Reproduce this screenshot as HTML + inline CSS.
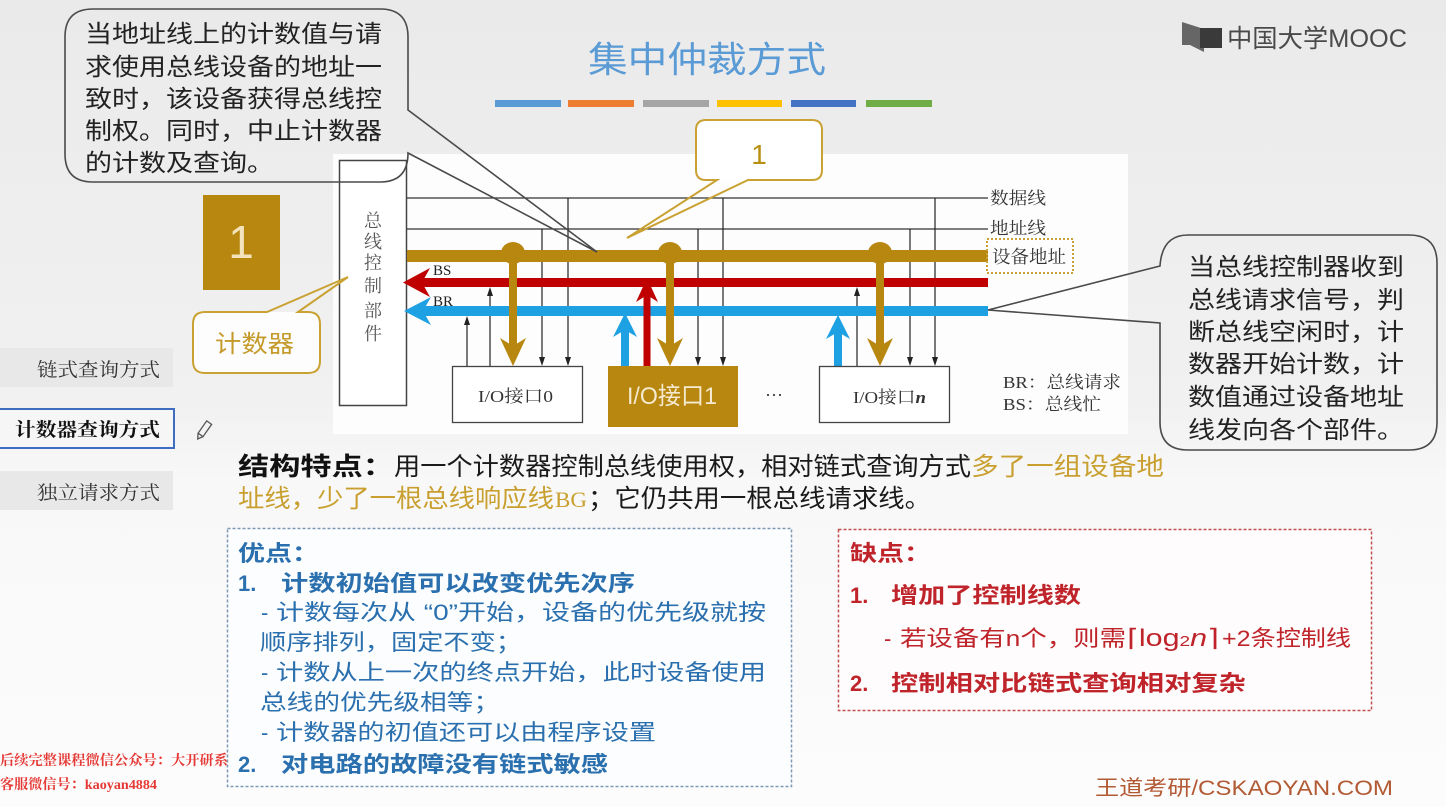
<!DOCTYPE html>
<html><head><meta charset="utf-8"><style>
html,body{margin:0;padding:0;width:1446px;height:807px;overflow:hidden;background:#f3f3f3}
svg{display:block}
.s{font-family:"Liberation Sans","Noto Sans CJK SC",sans-serif}
.r{font-family:"Liberation Serif","Noto Serif CJK SC",serif}
</style></head><body>
<svg width="1446" height="807" viewBox="0 0 1446 807" xmlns="http://www.w3.org/2000/svg">
<defs>
<linearGradient id="bg" x1="0" y1="0" x2="0" y2="1">
<stop offset="0" stop-color="#eaeaea"/>
<stop offset="0.5" stop-color="#f1f1f1"/>
<stop offset="0.6" stop-color="#f8f8f8"/>
<stop offset="1" stop-color="#fcfcfc"/>
</linearGradient>
</defs>
<rect width="1446" height="807" fill="url(#bg)"/>

<!-- diagram panel -->
<rect x="333" y="154" width="795" height="280" fill="#fdfdfd"/>

<!-- title -->
<text class="s" x="588" y="72" font-size="36" fill="#5b9bd5" textLength="238" lengthAdjust="spacingAndGlyphs">集中仲裁方式</text>
<rect x="495" y="100" width="66" height="7" fill="#5b9bd5"/>
<rect x="568" y="100" width="66" height="7" fill="#ed7d31"/>
<rect x="643" y="100" width="66" height="7" fill="#a5a5a5"/>
<rect x="717" y="100" width="65" height="7" fill="#ffc000"/>
<rect x="791" y="100" width="65" height="7" fill="#4472c4"/>
<rect x="866" y="100" width="66" height="7" fill="#70ad47"/>

<!-- MOOC logo -->
<polygon points="1182,22 1204,29 1204,52 1190,45 1182,45" fill="#666"/>
<rect x="1200" y="28" width="22" height="20" fill="#3a3a3a"/>
<text class="s" x="1227" y="47" font-size="25" fill="#4a4a4a" textLength="180" lengthAdjust="spacingAndGlyphs">中国大学MOOC</text>

<!-- bus control box -->
<rect x="339.5" y="160.5" width="67" height="245" fill="#fff" stroke="#444" stroke-width="1.5"/>
<g class="r" font-size="18" fill="#555" text-anchor="middle">
<text x="373" y="227">总</text>
<text x="373" y="248">线</text>
<text x="373" y="269">控</text>
<text x="373" y="292">制</text>
<text x="373" y="317">部</text>
<text x="373" y="340">件</text>
</g>

<!-- data / address lines -->
<line x1="407" y1="198" x2="988" y2="198" stroke="#333" stroke-width="1.3"/>
<line x1="407" y1="229" x2="988" y2="229" stroke="#333" stroke-width="1.3"/>

<!-- thin verticals -->
<g stroke="#222" stroke-width="1.2">
<line x1="467" y1="366" x2="467" y2="320"/>
<line x1="490" y1="366" x2="490" y2="291"/>
<line x1="857" y1="366" x2="857" y2="291"/>
<line x1="542" y1="229" x2="542" y2="360"/>
<line x1="698" y1="229" x2="698" y2="360"/>
<line x1="910" y1="229" x2="910" y2="360"/>
<line x1="568" y1="198" x2="568" y2="360"/>
<line x1="723" y1="198" x2="723" y2="360"/>
<line x1="935" y1="198" x2="935" y2="360"/>
</g>
<g fill="#222">
<polygon points="464,325 470,325 467,316"/>
<polygon points="487,296 493,296 490,287"/>
<polygon points="854,296 860,296 857,287"/>
<polygon points="539,357 545,357 542,366"/>
<polygon points="695,357 701,357 698,366"/>
<polygon points="907,357 913,357 910,366"/>
<polygon points="565,357 571,357 568,366"/>
<polygon points="720,357 726,357 723,366"/>
<polygon points="932,357 938,357 935,366"/>
</g>

<!-- gold bus -->
<rect x="407" y="250" width="581" height="12" fill="#b8870f"/>
<!-- red BS -->
<rect x="422" y="278" width="566" height="9" fill="#c00000"/>
<polygon points="403,282.5 430,268 422,282.5 430,297" fill="#c00000"/>
<!-- blue BR -->
<rect x="422" y="306" width="566" height="10" fill="#1ea1e3"/>
<polygon points="404,311 431,297 423,311 431,325" fill="#1ea1e3"/>

<text class="r" x="433" y="275" font-size="15" fill="#222">BS</text>
<text class="r" x="433" y="306" font-size="15" fill="#222">BR</text>

<!-- blue up arrows -->
<g fill="#1ea1e3">
<rect x="621" y="328" width="8" height="38"/>
<polygon points="625,313 637,337 625,330 613,337"/>
<rect x="834" y="330" width="8" height="36"/>
<polygon points="838,315 850,339 838,332 826,339"/>
</g>
<!-- red up arrow -->
<rect x="643.5" y="294" width="7" height="72" fill="#c00000"/>
<polygon points="647,278 658,302 647,295 636,302" fill="#c00000"/>

<!-- gold circles and down arrows -->
<g fill="#b8870f">
<ellipse cx="513" cy="253" rx="12" ry="11"/>
<ellipse cx="670" cy="253" rx="12" ry="11"/>
<ellipse cx="880" cy="253" rx="12" ry="11"/>
<rect x="509" y="255" width="8" height="92"/>
<polygon points="500,338 513,346 526,338 513,366"/>
<rect x="666" y="255" width="8" height="92"/>
<polygon points="657,338 670,346 683,338 670,366"/>
<rect x="876" y="255" width="8" height="92"/>
<polygon points="867,338 880,346 893,338 880,366"/>
</g>

<!-- I/O boxes -->
<rect x="452.5" y="366.5" width="130" height="56" fill="#fff" stroke="#444" stroke-width="1.3"/>
<text class="r" x="478" y="402" font-size="17" fill="#333" textLength="75" lengthAdjust="spacingAndGlyphs">I/O接口0</text>
<rect x="608" y="366" width="130" height="61" fill="#b8870f"/>
<text class="s" x="627" y="404" font-size="24" fill="#f5ead0" textLength="90" lengthAdjust="spacingAndGlyphs">I/O接口1</text>
<text class="r" x="765" y="401" font-size="18" fill="#333">···</text>
<rect x="819.5" y="366.5" width="130" height="56" fill="#fff" stroke="#444" stroke-width="1.3"/>
<text class="r" x="853" y="403" font-size="17" fill="#333" textLength="73" lengthAdjust="spacingAndGlyphs">I/O接口<tspan font-style="italic" font-weight="bold">n</tspan></text>

<!-- right labels -->
<text class="r" x="990" y="204" font-size="17" fill="#333" textLength="56" lengthAdjust="spacingAndGlyphs">数据线</text>
<text class="r" x="990" y="234" font-size="17" fill="#333" textLength="56" lengthAdjust="spacingAndGlyphs">地址线</text>
<rect x="987" y="239" width="86" height="34" fill="none" stroke="#c9a233" stroke-width="2" stroke-dasharray="2 2"/>
<text class="r" x="992" y="263" font-size="18" fill="#333" textLength="74" lengthAdjust="spacingAndGlyphs">设备地址</text>
<text class="r" x="1003" y="388" font-size="17" fill="#333" textLength="118" lengthAdjust="spacingAndGlyphs">BR：总线请求</text>
<text class="r" x="1003" y="410" font-size="17" fill="#333" textLength="98" lengthAdjust="spacingAndGlyphs">BS：总线忙</text>

<!-- top-left callout -->
<path d="M 93,9 H 380 Q 408,9 408,37 V 110 L 597,252 L 408,153 Q 408,182 380,182 H 93 Q 65,182 65,154 V 37 Q 65,9 93,9 Z" fill="none" stroke="#4a4a4a" stroke-width="1.6"/>
<g class="s" font-size="24" fill="#222">
<text x="85" y="42" textLength="297" lengthAdjust="spacingAndGlyphs">当地址线上的计数值与请</text>
<text x="85" y="75" textLength="297" lengthAdjust="spacingAndGlyphs">求使用总线设备的地址一</text>
<text x="85" y="107" textLength="297" lengthAdjust="spacingAndGlyphs">致时，该设备获得总线控</text>
<text x="85" y="139" textLength="297" lengthAdjust="spacingAndGlyphs">制权。同时，中止计数器</text>
<text x="85" y="171" textLength="189" lengthAdjust="spacingAndGlyphs">的计数及查询。</text>
</g>

<!-- right callout -->
<path d="M 1188,235 H 1409 Q 1437,235 1437,263 V 422 Q 1437,450 1409,450 H 1188 Q 1160,450 1160,422 V 323 L 988,310 L 1160,266 Q 1162,235 1188,235 Z" fill="none" stroke="#4a4a4a" stroke-width="1.6"/>
<g class="s" font-size="24" fill="#222">
<text x="1188" y="275" textLength="216" lengthAdjust="spacingAndGlyphs">当总线控制器收到</text>
<text x="1188" y="308" textLength="216" lengthAdjust="spacingAndGlyphs">总线请求信号，判</text>
<text x="1188" y="340" textLength="216" lengthAdjust="spacingAndGlyphs">断总线空闲时，计</text>
<text x="1188" y="372" textLength="216" lengthAdjust="spacingAndGlyphs">数器开始计数，计</text>
<text x="1188" y="405" textLength="216" lengthAdjust="spacingAndGlyphs">数值通过设备地址</text>
<text x="1188" y="438" textLength="216" lengthAdjust="spacingAndGlyphs">线发向各个部件。</text>
</g>

<!-- gold callout "1" -->
<rect x="696" y="120" width="126" height="60" rx="10" fill="#fff"/>
<path d="M 706,120 H 812 Q 822,120 822,130 V 170 Q 822,180 812,180 H 748 L 627,238 L 717,180 H 706 Q 696,180 696,170 V 130 Q 696,120 706,120 Z" fill="none" stroke="#c9a233" stroke-width="2"/>
<text class="s" x="759" y="164" font-size="28" fill="#b8900f" text-anchor="middle">1</text>

<!-- gold square 1 -->
<rect x="203" y="195" width="77" height="95" fill="#b8870f"/>
<text class="s" x="241" y="258" font-size="46" fill="#f3e4bd" text-anchor="middle">1</text>

<!-- 计数器 callout -->
<rect x="193" y="312" width="127" height="61" rx="12" fill="#fdfdfd"/>
<path d="M 205,312 H 267 L 348,277 L 298,312 H 308 Q 320,312 320,324 V 361 Q 320,373 308,373 H 205 Q 193,373 193,361 V 324 Q 193,312 205,312 Z" fill="none" stroke="#c9a233" stroke-width="2"/>
<text class="s" x="215" y="352" font-size="24" fill="#c49a2a" textLength="79" lengthAdjust="spacingAndGlyphs">计数器</text>

<!-- sidebar -->
<rect x="0" y="348" width="173" height="39" fill="#e8e8e8"/>
<text class="r" x="37" y="376" font-size="19" fill="#333" textLength="123" lengthAdjust="spacingAndGlyphs">链式查询方式</text>
<rect x="-2" y="409" width="176" height="39" fill="#f6f6f6" stroke="#3d6cc0" stroke-width="2"/>
<text class="r" x="15" y="436" font-size="19" font-weight="bold" fill="#111" textLength="145" lengthAdjust="spacingAndGlyphs">计数器查询方式</text>
<rect x="0" y="471" width="173" height="39" fill="#e8e8e8"/>
<text class="r" x="37" y="499" font-size="19" fill="#333" textLength="123" lengthAdjust="spacingAndGlyphs">独立请求方式</text>
<g transform="translate(204,430) rotate(-55)">
<rect x="-6" y="-3" width="15" height="6" fill="none" stroke="#555" stroke-width="1.3"/>
<path d="M -6,-3 L -11,0 L -6,3" fill="none" stroke="#555" stroke-width="1.3"/>
</g>

<!-- structure text -->
<g class="s" font-size="25">
<text x="238" y="475" font-weight="bold" fill="#111" textLength="156" lengthAdjust="spacingAndGlyphs">结构特点：</text>
<text x="394" y="475" fill="#1a1a1a" textLength="577" lengthAdjust="spacingAndGlyphs">用一个计数器控制总线使用权，相对链式查询方式</text>
<text x="971" y="475" fill="#c9a030" textLength="193" lengthAdjust="spacingAndGlyphs">多了一组设备地</text>
<text x="238" y="507" fill="#c9a030" textLength="316" lengthAdjust="spacingAndGlyphs">址线，少了一根总线响应线</text>
<text class="r" x="555" y="507" fill="#c9a030" font-size="22" textLength="32" lengthAdjust="spacingAndGlyphs">BG</text>
<text x="588" y="507" fill="#1a1a1a" textLength="343" lengthAdjust="spacingAndGlyphs">；它仍共用一根总线请求线。</text>
</g>

<!-- advantages box -->
<rect x="227.5" y="528.5" width="564" height="258" fill="#fcfdfe" stroke="#7d98b3" stroke-width="1.5" stroke-dasharray="3 2"/>
<g class="s" font-size="22" fill="#2a6fae">
<text x="238" y="561" font-weight="bold" textLength="81" lengthAdjust="spacingAndGlyphs">优点：</text>
<text x="238" y="591" font-weight="bold">1.</text>
<text x="281" y="591" font-weight="bold" textLength="354" lengthAdjust="spacingAndGlyphs">计数初始值可以改变优先次序</text>
<text x="261" y="620">-</text>
<text x="276" y="620" textLength="490" lengthAdjust="spacingAndGlyphs">计数每次从 “0”开始，设备的优先级就按</text>
<text x="260" y="650" textLength="262" lengthAdjust="spacingAndGlyphs">顺序排列，固定不变；</text>
<text x="261" y="680">-</text>
<text x="276" y="680" textLength="490" lengthAdjust="spacingAndGlyphs">计数从上一次的终点开始，此时设备使用</text>
<text x="260" y="710" textLength="240" lengthAdjust="spacingAndGlyphs">总线的优先级相等；</text>
<text x="261" y="740">-</text>
<text x="276" y="740" textLength="380" lengthAdjust="spacingAndGlyphs">计数器的初值还可以由程序设置</text>
<text x="238" y="772" font-weight="bold">2.</text>
<text x="281" y="772" font-weight="bold" textLength="327" lengthAdjust="spacingAndGlyphs">对电路的故障没有链式敏感</text>
</g>

<!-- disadvantages box -->
<rect x="838.5" y="529.5" width="533" height="181" fill="#fefcfc" stroke="#c0504d" stroke-width="1.5" stroke-dasharray="3 2"/>
<g class="s" font-size="22" fill="#c0242b">
<text x="850" y="561" font-weight="bold" textLength="81" lengthAdjust="spacingAndGlyphs">缺点：</text>
<text x="850" y="603" font-weight="bold">1.</text>
<text x="891" y="603" font-weight="bold" textLength="190" lengthAdjust="spacingAndGlyphs">增加了控制线数</text>
<text x="884" y="646">-</text>
<text x="900" y="646" textLength="226" lengthAdjust="spacingAndGlyphs">若设备有n个，则需</text>
<text x="1127" y="646" font-size="24" textLength="92" lengthAdjust="spacingAndGlyphs">⌈log<tspan font-size="15">2</tspan><tspan font-style="italic">n</tspan>⌉</text>
<text x="1222" y="646" textLength="129" lengthAdjust="spacingAndGlyphs">+2条控制线</text>
<text x="850" y="691" font-weight="bold">2.</text>
<text x="891" y="691" font-weight="bold" textLength="355" lengthAdjust="spacingAndGlyphs">控制相对比链式查询相对复杂</text>
</g>

<!-- watermarks -->
<g class="r" font-size="14" font-weight="bold" fill="#e53935">
<text x="0" y="765" textLength="228" lengthAdjust="spacingAndGlyphs">后续完整课程微信公众号：大开研系</text>
<text x="0" y="789" textLength="157" lengthAdjust="spacingAndGlyphs">客服微信号：kaoyan4884</text>
</g>
<text class="s" x="1095" y="795" font-size="21" fill="#b25a34" textLength="298" lengthAdjust="spacingAndGlyphs">王道考研/CSKAOYAN.COM</text>
</svg>
</body></html>
